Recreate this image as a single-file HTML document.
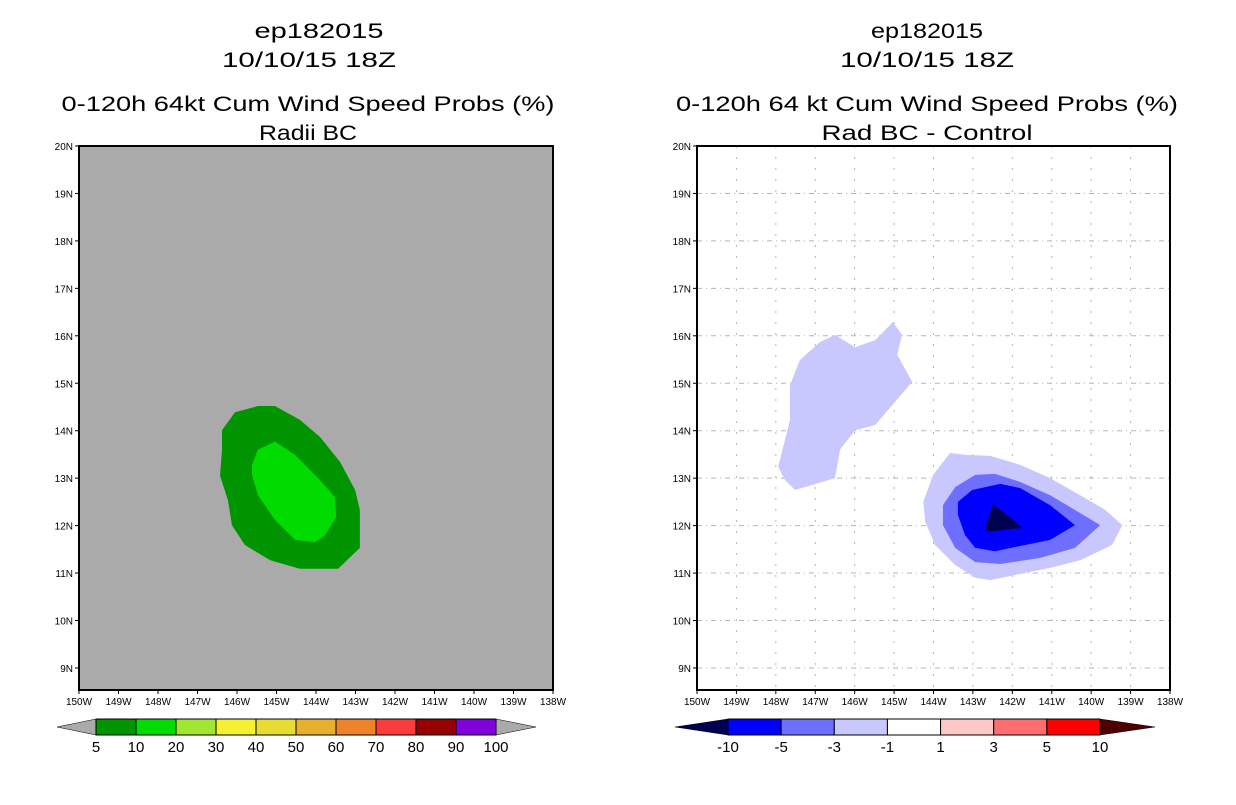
<!DOCTYPE html>
<html><head><meta charset="utf-8"><style>
html,body{margin:0;padding:0;background:#fff;}
svg text{font-family:"Liberation Sans",sans-serif;fill:#000;}
</style></head><body>
<svg id="root" width="1236" height="800" xmlns="http://www.w3.org/2000/svg">
<g>
<text x="319" y="38" font-size="21" text-anchor="middle" textLength="129" lengthAdjust="spacingAndGlyphs">ep182015</text>
<text x="309" y="67" font-size="21" text-anchor="middle" textLength="174" lengthAdjust="spacingAndGlyphs">10/10/15 18Z</text>
<text x="308" y="111" font-size="21" text-anchor="middle" textLength="493" lengthAdjust="spacingAndGlyphs">0-120h 64kt Cum Wind Speed Probs (%)</text>
<text x="308" y="140" font-size="21" text-anchor="middle" textLength="98" lengthAdjust="spacingAndGlyphs">Radii BC</text>
</g>
<g>
<text x="927" y="38" font-size="21" text-anchor="middle" textLength="112" lengthAdjust="spacingAndGlyphs">ep182015</text>
<text x="927" y="67" font-size="21" text-anchor="middle" textLength="174" lengthAdjust="spacingAndGlyphs">10/10/15 18Z</text>
<text x="927" y="111" font-size="21" text-anchor="middle" textLength="502" lengthAdjust="spacingAndGlyphs">0-120h 64 kt Cum Wind Speed Probs (%)</text>
<text x="927" y="140" font-size="21" text-anchor="middle" textLength="211" lengthAdjust="spacingAndGlyphs">Rad BC - Control</text>
</g>
<g id="left"></g>
<g id="right"></g>
<g id="cbars"></g>
</svg>
<script>
const NS='http://www.w3.org/2000/svg';
const lonTicks=[150,149,148,147,146,145,144,143,142,141,140,139,138];
const latTicks=[20,19,18,17,16,15,14,13,12,11,10,9];
// left panel contours (W lon, N lat)
const leftOuterLon=[146.38,146.05,145.47,145.04,144.41,143.9,143.39,143.01,142.89,142.89,143.44,144.41,145.16,145.8,146.13,146.23,146.43,146.38];
const leftOuterLat=[14.01,14.39,14.52,14.52,14.23,13.87,13.34,12.75,12.33,11.53,11.09,11.09,11.27,11.59,12.01,12.54,13.05,13.6];
const leftInnerLon=[145.62,145.47,145.04,144.53,143.9,143.52,143.49,143.77,144.03,144.53,145.04,145.47,145.62];
const leftInnerLat=[13.28,13.6,13.77,13.49,12.96,12.6,12.18,11.8,11.65,11.7,12.12,12.64,13.07];
// right panel contours
const nwLon=[147.94,147.64,147.64,147.39,146.88,146.5,145.99,145.48,145.03,144.8,144.92,144.54,145.48,145.99,146.37,146.5,147.51,147.77];
const nwLat=[13.24,14.23,14.96,15.49,15.87,16.02,15.76,15.91,16.29,16.02,15.6,15.03,14.12,14.01,13.6,13.0,12.75,12.96];
const seLightLon=[144.26,144.01,143.58,143.17,142.56,141.8,141.04,140.28,139.64,139.21,139.47,140.28,141.04,141.93,142.56,142.94,143.45,143.96,144.21];
const seLightLat=[12.5,13.07,13.53,13.49,13.47,13.28,13.0,12.64,12.33,12.01,11.59,11.27,11.11,10.96,10.85,10.9,11.17,11.59,12.08];
const seMedLon=[143.76,143.45,142.94,142.44,141.8,141.04,140.41,139.77,140.41,141.29,142.31,142.94,143.45,143.76];
const seMedLat=[12.43,12.81,13.07,13.09,12.92,12.64,12.33,12.01,11.53,11.32,11.19,11.23,11.53,12.01];
const seDarkLon=[143.38,143.02,142.31,141.8,141.04,140.41,141.04,141.8,142.44,142.94,143.2,143.38];
const seDarkLat=[12.5,12.75,12.88,12.79,12.43,12.01,11.7,11.57,11.46,11.53,11.8,12.22];
const navyLon=[142.49,141.98,141.75,142.66,142.66];
const navyLat=[12.45,12.12,11.95,11.87,12.01];
// colorbars
const leftLevels=['5','10','20','30','40','50','60','70','80','90','100'];
const leftColors=['#009500','#00dc00','#a0e632','#f5f032','#e6dc32','#e6af2d','#f08228','#fa3c3c','#960000','#8200dc'];
const rightLevels=['-10','-5','-3','-1','1','3','5','10'];
const rightColors=['#0000ff','#6e6eff','#c8c8ff','#ffffff','#ffc8c8','#ff6e6e','#ff0000'];

const TOP=146,BOT=690,LAT0=20,PXLAT=47.45;
function yOf(lat){return TOP+(LAT0-lat)*PXLAT;}
function mk(tag,attrs,parent){const e=document.createElementNS(NS,tag);for(const k in attrs)e.setAttribute(k,attrs[k]);parent.appendChild(e);return e;}
function panel(g,x0,x1,bg,grid){
  const xOf=w=>x0+(150-w)*(x1-x0)/12;
  const r=mk('rect',{x:x0,y:TOP,width:x1-x0,height:BOT-TOP,fill:bg},g);
  
  
  if(grid){
    lonTicks.forEach(w=>{if(w==150||w==138)return;const l=mk('line',{x1:xOf(w),x2:xOf(w),y1:TOP,y2:BOT,stroke:'#b4b4b4','stroke-width':1,'stroke-dasharray':'2,9'},g);
      
      });
    latTicks.forEach(n=>{if(n==20)return;const l=mk('line',{x1:x0,x2:x1,y1:yOf(n),y2:yOf(n),stroke:'#b4b4b4','stroke-width':1,'stroke-dasharray':'5,4,1,4'},g);
      
      });
  }
  return xOf;
}
function poly(g,xOf,lons,lats,fill,name){
  const p=mk('polygon',{points:lons.map((w,i)=>xOf(w)+','+yOf(lats[i])).join(' '),fill:fill},g);
  
  
}
function frame(g,x0,x1){
  const xOf=w=>x0+(150-w)*(x1-x0)/12;
  const r=mk('rect',{x:x0,y:TOP,width:x1-x0,height:BOT-TOP,fill:'none',stroke:'#000','stroke-width':2},g);
  
  
  lonTicks.forEach(w=>{mk('line',{x1:xOf(w),x2:xOf(w),y1:BOT,y2:BOT+4,stroke:'#000'},g);
    const t=mk('text',{x:xOf(w),y:BOT+15,'font-size':10,'text-anchor':'middle'},g);t.textContent=w+'W';
    
    });
  latTicks.forEach(n=>{mk('line',{x1:x0-4,x2:x0,y1:yOf(n),y2:yOf(n),stroke:'#000'},g);
    const t=mk('text',{x:x0-6,y:yOf(n)+4,'font-size':10,'text-anchor':'end'},g);t.textContent=n+'N';
    
    });
}
const L=document.getElementById('left'),R=document.getElementById('right');
let xl=panel(L,79,553,'#aaaaaa',false);
poly(L,xl,leftOuterLon,leftOuterLat,'#009500','contour-5-10');
poly(L,xl,leftInnerLon,leftInnerLat,'#00dc00','contour-10-20');
frame(L,79,553);
let xr=panel(R,697,1170,'#ffffff',true);
poly(R,xr,nwLon,nwLat,'#c8c8ff','contour-nw-minus1');
poly(R,xr,seLightLon,seLightLat,'#c8c8ff','contour-se-minus1');
poly(R,xr,seMedLon,seMedLat,'#6e6eff','contour-se-minus3');
poly(R,xr,seDarkLon,seDarkLat,'#0000ff','contour-se-minus5');
poly(R,xr,navyLon,navyLat,'#000050','contour-se-minus10');
frame(R,697,1170);

function cbar(g,bx0,bx1,tipL,tipR,colors,levels,lowC,highC,name){
  const y0=719,y1=735,ym=727,w=(bx1-bx0)/colors.length;
  const a=mk('polygon',{points:`${tipL},${ym} ${bx0},${y0} ${bx0},${y1}`,fill:lowC,stroke:'#000','stroke-width':0.5},g);
  
  
  const b=mk('polygon',{points:`${tipR},${ym} ${bx1},${y0} ${bx1},${y1}`,fill:highC,stroke:'#000','stroke-width':0.5},g);
  
  
  colors.forEach((c,i)=>{const r=mk('rect',{x:bx0+i*w,y:y0,width:w,height:y1-y0,fill:c,stroke:'#000','stroke-width':1},g);
    
    });
  levels.forEach((s,i)=>{const t=mk('text',{x:bx0+i*w,y:752,'font-size':15,'text-anchor':'middle'},g);t.textContent=s;
    
    });
}
const C=document.getElementById('cbars');
cbar(C,96,496,57,536,leftColors,leftLevels,'#aaaaaa','#aaaaaa','left-colorbar');
cbar(C,728,1100,675,1155,rightColors,rightLevels,'#000050','#500000','right-colorbar');
</script>
</body></html>
